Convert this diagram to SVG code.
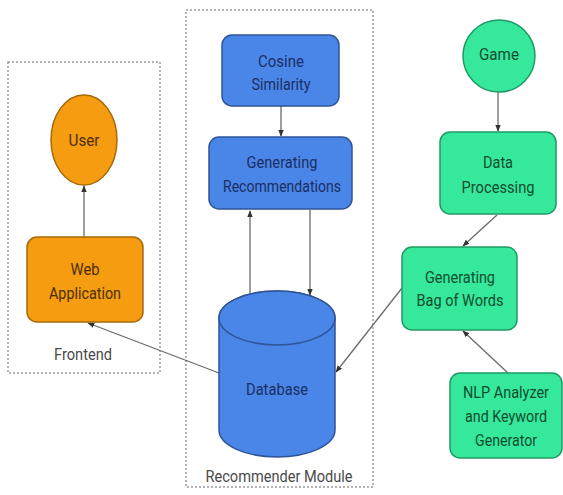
<svg xmlns="http://www.w3.org/2000/svg" width="563" height="495" viewBox="0 0 563 495">
  <style>
    .group { fill: none; stroke: #9a9a9a; stroke-width: 1.5; stroke-dasharray: 2 2; }
    .orange { fill: #f59c10; stroke: #a8690a; stroke-width: 1.5; }
    .blue { fill: #4a86e8; stroke: #2d5597; stroke-width: 1.5; }
    .green { fill: #36e89c; stroke: #1f9a63; stroke-width: 1.5; }
    text { font-family: "Liberation Sans Narrow", Roboto, "Liberation Sans", sans-serif; font-size: 16px; text-anchor: middle; }
    .t-orange { fill: #4a2f06; }
    .t-blue { fill: #1b2f63; }
    .t-green { fill: #0f4d2e; }
    .label { fill: #4a4a4a; }
    .edge { fill: none; stroke: #6b6b6b; stroke-width: 1.3; marker-end: url(#arrow); }
  </style>
  <defs>
    <marker id="arrow" viewBox="0 0 10 10" refX="9" refY="5" markerWidth="7" markerHeight="7" orient="auto" markerUnits="userSpaceOnUse">
      <path d="M0,1 L10,5 L0,9 Z" fill="#333"/>
    </marker>
  </defs>
  <rect width="563" height="495" fill="#ffffff"/>

  <!-- container groups -->
  <g id="frontend-group">
    <rect class="group" x="8" y="62" width="152" height="311"/>
    <text class="label" x="83" y="360" textLength="58" lengthAdjust="spacingAndGlyphs">Frontend</text>
  </g>
  <g id="recommender-group">
    <rect class="group" x="186" y="10" width="187" height="477"/>
    <text class="label" x="279" y="482" textLength="147" lengthAdjust="spacingAndGlyphs">Recommender Module</text>
  </g>

  <!-- connectors -->
  <g id="connectors">
    <line class="edge" x1="84" y1="237" x2="84" y2="186"/>
    <line class="edge" x1="281" y1="106" x2="281" y2="136"/>
    <line class="edge" x1="250" y1="295" x2="250" y2="211"/>
    <line class="edge" x1="310" y1="210" x2="310" y2="295"/>
    <line class="edge" x1="219" y1="373" x2="88" y2="323"/>
    <line class="edge" x1="498" y1="92" x2="498" y2="131"/>
    <line class="edge" x1="497" y1="215" x2="463" y2="246"/>
    <line class="edge" x1="402" y1="288" x2="336" y2="372"/>
    <line class="edge" x1="508" y1="373" x2="463" y2="331"/>
  </g>

  <!-- frontend -->
  <g id="user">
    <ellipse class="orange" cx="84" cy="140" rx="33" ry="45"/>
    <text class="t-orange" x="84" y="146" textLength="31" lengthAdjust="spacingAndGlyphs">User</text>
  </g>
  <g id="web-application">
    <rect class="orange" x="27" y="237" width="116" height="85" rx="10"/>
    <text class="t-orange" x="85" y="275" textLength="29" lengthAdjust="spacingAndGlyphs">Web</text>
    <text class="t-orange" x="85" y="299" textLength="72" lengthAdjust="spacingAndGlyphs">Application</text>
  </g>

  <!-- recommender module -->
  <g id="cosine-similarity">
    <rect class="blue" x="222" y="35" width="117" height="71" rx="10"/>
    <text class="t-blue" x="281" y="67" textLength="46" lengthAdjust="spacingAndGlyphs">Cosine</text>
    <text class="t-blue" x="281" y="90" textLength="59" lengthAdjust="spacingAndGlyphs">Similarity</text>
  </g>
  <g id="generating-recommendations">
    <rect class="blue" x="209" y="137" width="143" height="72" rx="10"/>
    <text class="t-blue" x="282" y="168" textLength="71" lengthAdjust="spacingAndGlyphs">Generating</text>
    <text class="t-blue" x="282" y="192" textLength="118" lengthAdjust="spacingAndGlyphs">Recommendations</text>
  </g>
  <g id="database">
    <path class="blue" d="M219,318 L219,430 A58,27 0 0 0 335,430 L335,318 A58,27 0 0 0 219,318 Z"/>
    <ellipse class="blue" cx="277" cy="318" rx="58" ry="27"/>
    <text class="t-blue" x="277" y="395" textLength="62" lengthAdjust="spacingAndGlyphs">Database</text>
  </g>

  <!-- content pipeline -->
  <g id="game">
    <circle class="green" cx="499" cy="56" r="36"/>
    <text class="t-green" x="499" y="60" textLength="40" lengthAdjust="spacingAndGlyphs">Game</text>
  </g>
  <g id="data-processing">
    <rect class="green" x="440" y="132" width="116" height="82" rx="10"/>
    <text class="t-green" x="498" y="168" textLength="30" lengthAdjust="spacingAndGlyphs">Data</text>
    <text class="t-green" x="498" y="193" textLength="73" lengthAdjust="spacingAndGlyphs">Processing</text>
  </g>
  <g id="bag-of-words">
    <rect class="green" x="402" y="247" width="115" height="83" rx="10"/>
    <text class="t-green" x="460" y="283" textLength="70" lengthAdjust="spacingAndGlyphs">Generating</text>
    <text class="t-green" x="460" y="306" textLength="87" lengthAdjust="spacingAndGlyphs">Bag of Words</text>
  </g>
  <g id="nlp-analyzer">
    <rect class="green" x="450" y="373" width="112" height="85" rx="10"/>
    <text class="t-green" x="506" y="398" textLength="86" lengthAdjust="spacingAndGlyphs">NLP Analyzer</text>
    <text class="t-green" x="506" y="422" textLength="82" lengthAdjust="spacingAndGlyphs">and Keyword</text>
    <text class="t-green" x="506" y="446" textLength="62" lengthAdjust="spacingAndGlyphs">Generator</text>
  </g>
</svg>
